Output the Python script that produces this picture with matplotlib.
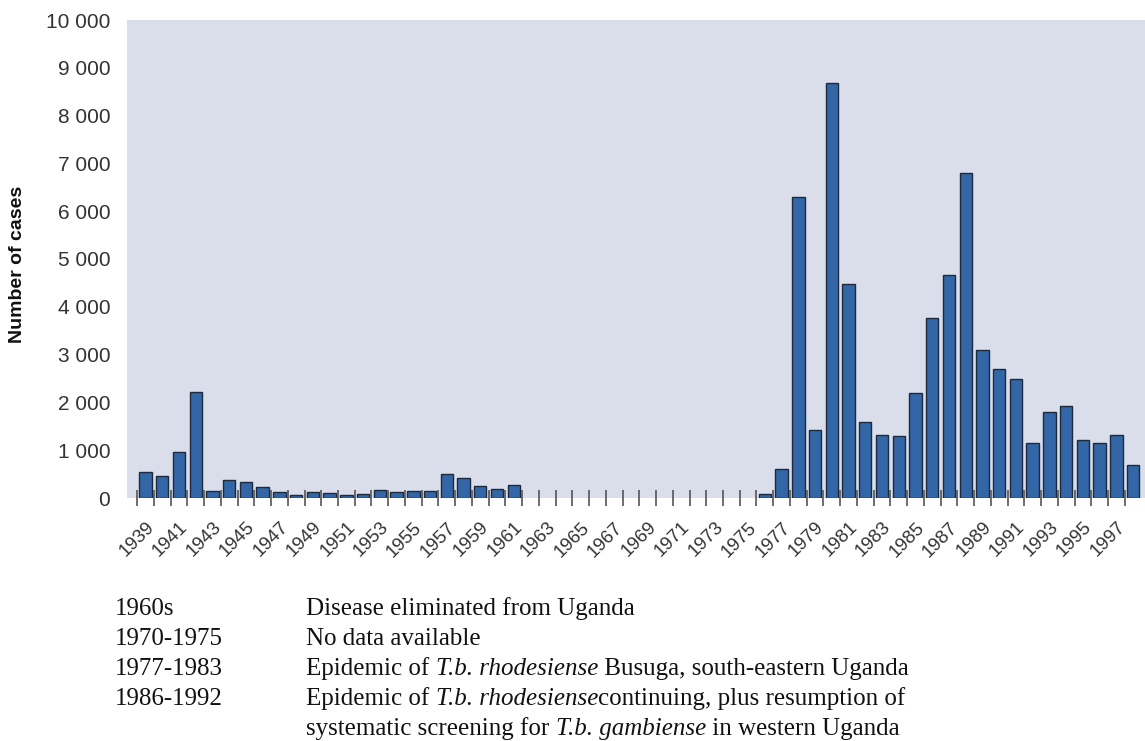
import matplotlib
matplotlib.use('agg')
import matplotlib.pyplot as plt
from matplotlib.ticker import FixedLocator

# yearly sleeping sickness cases, two periods with data
years_early = list(range(1939, 1962))
cases_early = [540, 455, 965, 2215, 150, 385, 345, 230, 125, 70, 120, 105,
               55, 85, 160, 125, 140, 140, 510, 425, 260, 195, 280]
years_late = list(range(1976, 1999))
cases_late = [80, 610, 6300, 1430, 8680, 4480, 1590, 1320, 1290, 2190, 3760,
              4670, 6800, 3100, 2690, 2500, 1150, 1800, 1920, 1210, 1145, 1320, 700]

tick_years = list(range(1939, 1998, 2))
tick_labels = [str(y) for y in tick_years]
y_ticks = list(range(0, 10001, 1000))
y_labels = ['0' if v == 0 else f'{v // 1000} 000' for v in y_ticks]

# notes under the chart; italic parts flagged with True
notes_left = ['1960s', '1970-1975', '1977-1983', '1986-1992', '']
notes_right = [
    [('Disease eliminated from Uganda', False)],
    [('No data available', False)],
    [('Epidemic of ', False), ('T.b. rhodesiense', True),
     (' Busuga, south-eastern Uganda', False)],
    [('Epidemic of ', False), ('T.b. rhodesiense', True),
     ('continuing, plus resumption of', False)],
    [('systematic screening for ', False), ('T.b. gambiense', True),
     (' in western Uganda', False)],
]

plt.rcParams['font.family'] = ['Liberation Sans', 'DejaVu Sans']

W, H = 1145, 741
fig = plt.figure(figsize=(W / 100, H / 100), dpi=100)
ax = fig.add_axes([127 / W, (H - 498) / H, 1018 / W, 478 / H])
ax.set_facecolor('#dadeeb')

bar_kw = dict(width=0.74, color='#3366a6', edgecolor='#1c2a40', linewidth=1.0)
ax.bar(years_early, cases_early, **bar_kw)
ax.bar(years_late, cases_late, **bar_kw)

ax.set_xlim(1939 - 1.105, 1939 + 59.71)
ax.set_ylim(0, 10000)
for s in ax.spines.values():
    s.set_visible(False)

ax.set_yticks(y_ticks)
ax.set_yticklabels(y_labels, fontsize=15, color='#333333')
ax.tick_params(axis='y', length=0, pad=12)

ax.set_xticks(tick_years)
ax.set_xticklabels(tick_labels, fontsize=13.5, color='#333333', rotation=45,
                   ha='right', rotation_mode='anchor')
ax.tick_params(axis='x', which='major', length=0, pad=15)
ax.xaxis.set_minor_locator(FixedLocator([y - 0.5 for y in range(1939, 1999)]))
ax.tick_params(axis='x', which='minor', direction='inout', length=11,
               width=1.2, color='#555555')

fig.text(18 / W, 1 - 264 / H, 'Number of cases', rotation=90, fontsize=14,
         fontweight='bold', ha='center', va='center', color='#111111')

renderer = fig.canvas.get_renderer()
note_kw = dict(fontsize=18, family='Liberation Serif', va='baseline',
               color='#111111')
for i, (a, parts) in enumerate(zip(notes_left, notes_right)):
    yb = 1 - (615 + 30 * i) / H
    fig.text(115 / W, yb, a, **note_kw)
    x = 306
    for txt, italic in parts:
        t = fig.text(x / W, yb, txt, style='italic' if italic else 'normal',
                     **note_kw)
        x = t.get_window_extent(renderer).x1

fig.savefig('out.png', dpi=100)
